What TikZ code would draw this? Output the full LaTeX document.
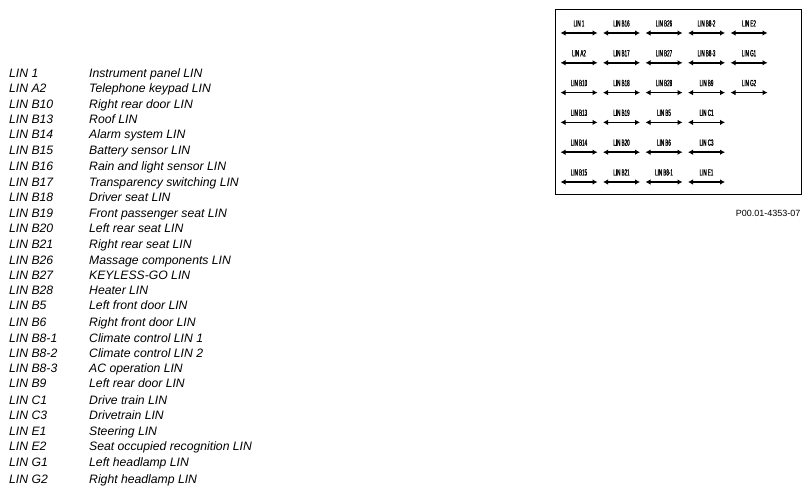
\documentclass[tikz,border=0pt]{standalone}
\usepackage{fontspec}
\setmainfont{Liberation Sans}
\newfontfamily\narrowfont[FakeStretch=0.5,FakeBold=1.2]{Liberation Sans}
\usetikzlibrary{arrows.meta}
\tikzset{
  legend/.style={anchor=base west, inner sep=0pt, font=\fontsize{12.2}{14}\selectfont\itshape},
  gridlabel/.style={anchor=base, inner sep=0pt, font=\narrowfont\fontsize{9}{10}\selectfont},
  linarrow/.style={line width=1.6pt, {Latex[length=5pt,width=5.5pt]}-{Latex[length=5pt,width=5.5pt]}},
  frame/.style={draw, line width=0.9pt},
  caption/.style={anchor=east, inner sep=0pt, font=\fontsize{9}{10}\selectfont}
}
\begin{document}
\begin{tikzpicture}[x=1pt,y=-1pt]
\useasboundingbox (0,0) rectangle (811,494);
% legend
\foreach \y/\a/\b [count=\i] in {
 73/LIN 1/Instrument panel LIN,
 88/LIN A2/Telephone keypad LIN,
 104/LIN B10/Right rear door LIN,
 119/LIN B13/Roof LIN,
 134.5/LIN B14/Alarm system LIN,
 150/LIN B15/Battery sensor LIN,
 166/LIN B16/Rain and light sensor LIN,
 182/LIN B17/Transparency switching LIN,
 197.5/LIN B18/Driver seat LIN,
 213/LIN B19/Front passenger seat LIN,
 228.5/LIN B20/Left rear seat LIN,
 244/LIN B21/Right rear seat LIN,
 260/LIN B26/Massage components LIN,
 275/LIN B27/KEYLESS-GO LIN,
 290/LIN B28/Heater LIN,
 305.5/LIN B5/Left front door LIN,
 322/LIN B6/Right front door LIN,
 338/LIN B8-1/Climate control LIN 1,
 353/LIN B8-2/Climate control LIN 2,
 368.5/LIN B8-3/AC operation LIN,
 383.5/LIN B9/Left rear door LIN,
 400/LIN C1/Drive train LIN,
 415.5/LIN C3/Drivetrain LIN,
 431/LIN E1/Steering LIN,
 446.5/LIN E2/Seat occupied recognition LIN,
 462/LIN G1/Left headlamp LIN,
 479/LIN G2/Right headlamp LIN}{
  \node[legend] (k\i) at (9,\y+4.3) {\a};
  \node[legend] (d\i) at (89,\y+4.3) {\b};
}
% frame
\draw[frame] (555,9) rectangle (801,194);
% grid of LIN arrows
\foreach \r/\row in {1/{LIN 1,LIN B16,LIN B26,LIN B8-2,LIN E2},
                     2/{LIN A2,LIN B17,LIN B27,LIN B8-3,LIN G1},
                     3/{LIN B10,LIN B18,LIN B28,LIN B9,LIN G2},
                     4/{LIN B13,LIN B19,LIN B5,LIN C1},
                     5/{LIN B14,LIN B20,LIN B6,LIN C3},
                     6/{LIN B15,LIN B21,LIN B8-1,LIN E1}}{
  \foreach \t [count=\c] in \row {
    \pgfmathsetmacro{\cx}{579+42.5*(\c-1)}
    \pgfmathsetmacro{\ay}{33+29.8*(\r-1)}
    \node[gridlabel] (g\r\c) at (\cx,\ay-6.5) {\t};
    \coordinate (l\r\c) at (\cx-18.5,\ay);
    \coordinate (r\r\c) at (\cx+18.5,\ay);
    \draw[linarrow] (l\r\c) -- (r\r\c);
  }
}
\node[caption] (cap) at (800.5,213.5) {P00.01-4353-07};
\end{tikzpicture}
\end{document}
